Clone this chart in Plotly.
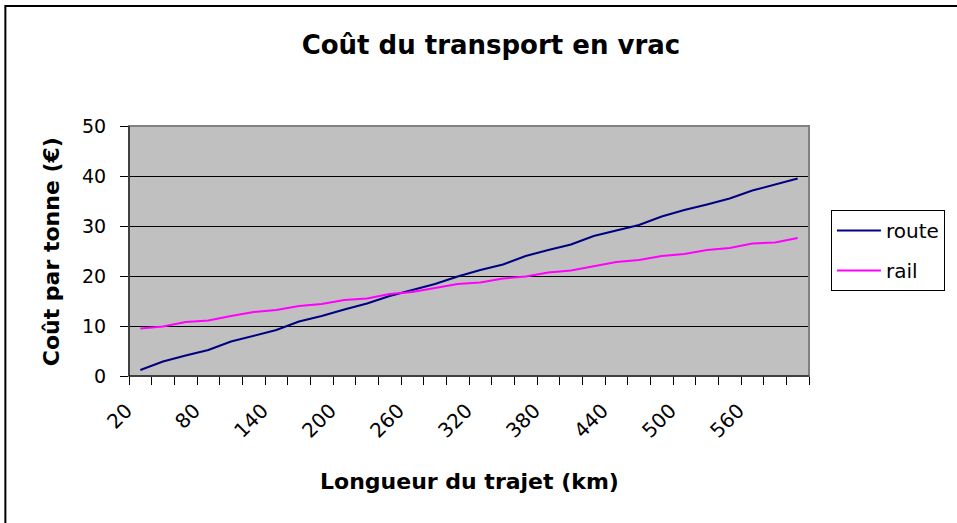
import plotly.graph_objects as go

distances = [20, 40, 60, 80, 100, 120, 140, 160, 180, 200, 220, 240, 260, 280, 300,
             320, 340, 360, 380, 400, 420, 440, 460, 480, 500, 520, 540, 560, 580, 600]
route = [1.2, 2.9, 4.1, 5.2, 6.9, 8.0, 9.2, 10.9, 12.0, 13.3, 14.5, 16.0, 17.2, 18.4, 19.9,
         21.2, 22.3, 24.0, 25.2, 26.3, 28.0, 29.1, 30.2, 31.9, 33.2, 34.3, 35.5, 37.1, 38.3, 39.5]
rail = [9.5, 9.9, 10.8, 11.1, 12.0, 12.8, 13.2, 14.0, 14.4, 15.2, 15.5, 16.4, 16.8, 17.6, 18.4,
        18.7, 19.5, 19.9, 20.7, 21.1, 22.0, 22.8, 23.2, 24.0, 24.4, 25.2, 25.6, 26.5, 26.7, 27.6]
tick_labels = distances[::3]

FONT = "DejaVu Sans, Arial, sans-serif"

W, H = 957, 523
L, R, T, B = 129, 811, 126, 376  # plot area in px

def px_x(p):
    return (p - L) / (R - L)

def px_y(p):
    return (B - p) / (B - T)

fig = go.Figure()
fig.add_trace(go.Scatter(x=distances, y=route, mode="lines", name="route",
                         line=dict(color="#000080", width=2), legendgroup="a"))
fig.add_trace(go.Scatter(x=distances, y=rail, mode="lines", name="rail",
                         line=dict(color="#FF00FF", width=2), legendgroup="b"))

fig.update_layout(
    width=W, height=H,
    margin=dict(l=L, r=W - R, t=T, b=H - B, pad=0),
    paper_bgcolor="white",
    plot_bgcolor="#C0C0C0",
    font=dict(family=FONT, color="black", size=18),
    title=dict(text="<b>Coût du transport en vrac</b>", font=dict(size=26, family=FONT),
               x=px_x(492), xref="paper", xanchor="center",
               y=1 - 45 / H, yref="container", yanchor="middle"),
    showlegend=True,
    legend=dict(x=px_x(833), y=px_y(210), xanchor="left", yanchor="top",
                bordercolor="black", borderwidth=1, bgcolor="white",
                font=dict(size=20, family=FONT), tracegroupgap=11,
                itemwidth=44),
    xaxis=dict(range=[10, 610], tickvals=tick_labels, ticktext=[str(v) for v in tick_labels],
               tickangle=-45, ticks="", showgrid=False, zeroline=False,
               showline=True, linecolor="black", linewidth=1,
               tickfont=dict(size=20), ticklabelstandoff=14, ticklabelshift=-14,
               minor=dict(tick0=10, dtick=20, ticks="outside", ticklen=8,
                          tickcolor="black", tickwidth=1, showgrid=False)),
    yaxis=dict(range=[0, 50], dtick=10, ticks="outside", ticklen=8, tickcolor="black",
               showgrid=True, gridcolor="black", gridwidth=1, zeroline=False,
               showline=True, linecolor="black", linewidth=1,
               tickfont=dict(size=19), ticklabelstandoff=10),
    shapes=[
        dict(type="rect", xref="paper", yref="paper", x0=0, x1=1, y0=0, y1=1,
             line=dict(color="#808080", width=2), layer="above"),
        dict(type="line", xref="paper", yref="paper", x0=0, x1=0, y0=0, y1=1,
             line=dict(color="black", width=1), layer="above"),
        dict(type="line", xref="paper", yref="paper", x0=0, x1=1, y0=0, y1=0,
             line=dict(color="black", width=1), layer="above"),
        dict(type="rect", xref="paper", yref="paper",
             x0=px_x(5), x1=px_x(962), y0=px_y(528), y1=px_y(6),
             line=dict(color="black", width=2), layer="above"),
    ],
    annotations=[
        dict(text="<b>Coût par tonne (€)</b>", xref="paper", yref="paper",
             x=px_x(51), y=px_y(252), textangle=-90, showarrow=False,
             xanchor="center", yanchor="middle", font=dict(size=22, family=FONT)),
        dict(text="<b>Longueur du trajet (km)</b>", xref="paper", yref="paper",
             x=px_x(471), y=px_y(481), showarrow=False,
             xanchor="center", yanchor="middle", font=dict(size=22, family=FONT)),
    ],
)

fig.write_html("out.html", config={"displayModeBar": False},
               post_script="document.body.style.margin='0';document.body.style.padding='0';")
